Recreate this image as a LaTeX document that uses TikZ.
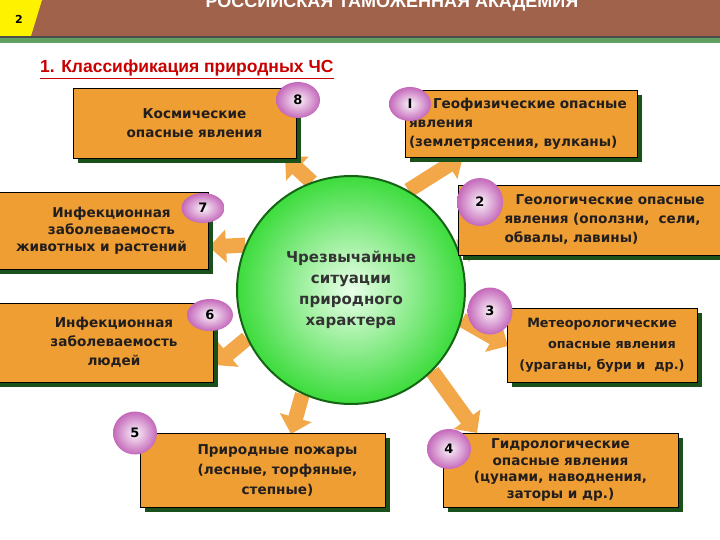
\documentclass[tikz,border=0pt]{standalone}
\usepackage{fontspec}
\setmainfont{DejaVu Sans}
\newfontfamily\headfont{Liberation Sans}
\usetikzlibrary{arrows.meta,shapes.geometric,shadows,backgrounds}
\definecolor{boxorange}{RGB}{238,158,50}
\definecolor{arroworange}{RGB}{242,168,72}
\definecolor{shadowgreen}{RGB}{26,80,26}
\definecolor{headbrown}{RGB}{160,98,74}
\definecolor{bandgreen}{RGB}{96,160,96}
\definecolor{circgreen}{RGB}{20,100,20}
\definecolor{ballpink}{RGB}{196,104,186}
\definecolor{textdark}{RGB}{35,30,30}
\definecolor{titlered}{RGB}{200,0,0}
\tikzset{
        % Orange boxes with green shadow
        tbox/.style={draw=black, line width=0.6pt, fill=boxorange, text=textdark, align=center,
                     inner sep=3pt, font=\bfseries\fontsize{13.6}{19}\selectfont,
                     drop shadow={shadow xshift=5pt, shadow yshift=-5pt, fill=shadowgreen, opacity=1}},
        % Pink numbered balls
        ballnum/.style={ellipse, inner sep=0pt, shading=radial, inner color=white!92!ballpink,
                        outer color=ballpink, font=\bfseries\fontsize{13}{13}\selectfont},
        % Block arrows
        bigarrow/.style={draw=arroworange, line width=15pt, -{Triangle[width=32pt,length=17pt]}}
}
\begin{document}
\begin{tikzpicture}[x=1pt, y=-1pt]
    \useasboundingbox (0,0) rectangle (720,540);
    % header
    \fill[headbrown] (0,0) rectangle (720,36);
    \fill[black!70] (0,36) rectangle (720,38);
    \fill[bandgreen] (0,38) rectangle (720,43);
    \fill[yellow] (0,0) -- (42,0) -- (31,36) -- (0,36) -- cycle;
    \node[font=\bfseries\fontsize{11}{11}\selectfont] (pg) at (19,19) {2};
    \node[anchor=base, text=white, font=\headfont\bfseries\fontsize{18}{18}\selectfont] (acad) at (392,8)
        {РОССИЙСКАЯ ТАМОЖЕННАЯ АКАДЕМИЯ};
    \node[anchor=base west, text=titlered, inner sep=0pt, font=\headfont\bfseries\fontsize{17.5}{17.5}\selectfont] (title) at (40,73)
        {\underline{1. Классификация природных ЧС}};

    % centre
    \node[circle, draw=circgreen, line width=2pt, minimum size=228pt, inner color=green!8,
          outer color={rgb,255:red,60;green,220;blue,60}, text=black!80, align=center,
          font=\bfseries\fontsize{15}{21}\selectfont] (circ) at (351,290)
        {Чрезвычайные\\ситуации\\природного\\характера};

    % boxes
    \node[tbox, minimum width=223pt, minimum height=70pt] (b8) at (184.5,123)
        {\hspace*{20pt}Космические\\\hspace*{20pt}опасные явления};
    \node[tbox, minimum width=232pt, minimum height=67pt, text width=224pt, align=left] (b1) at (521,123.5)
        {\hspace*{24pt}Геофизические опасные\\явления\\(землетрясения, вулканы)};
    \node[tbox, minimum width=267pt, minimum height=70pt, text width=256pt, align=left] (b2) at (591.5,220)
        {\hspace*{52pt}Геологические опасные\\\hspace*{41pt}явления (оползни,\ \ сели,\\\hspace*{41pt}обвалы, лавины)};
    \node[tbox, minimum width=213pt, minimum height=77pt, font=\bfseries\fontsize{13.6}{17}\selectfont] (b7) at (101.5,230.5)
        {\hspace*{20pt}Инфекционная\\\hspace*{20pt}заболеваемость\\животных и растений};
    \node[tbox, minimum width=218pt, minimum height=79pt] (b6) at (104,342.5)
        {\hspace*{20pt}Инфекционная\\\hspace*{20pt}заболеваемость\\\hspace*{20pt}людей};
    \node[tbox, minimum width=245pt, minimum height=74pt, font=\bfseries\fontsize{13.6}{20}\selectfont] (b5) at (262.5,470)
        {\hspace*{30pt}Природные пожары\\\hspace*{30pt}(лесные, торфяные,\\\hspace*{30pt}степные)};
    \node[tbox, minimum width=190pt, minimum height=74pt, font=\bfseries\fontsize{12.8}{21}\selectfont] (b3) at (602,345)
        {Метеорологические\\\hspace*{20pt}опасные явления\\(ураганы, бури и\ \ др.)};
    \node[tbox, minimum width=235pt, minimum height=74pt, font=\bfseries\fontsize{13.6}{16.5}\selectfont] (b4) at (560.5,470)
        {Гидрологические\\опасные явления\\(цунами, наводнения,\\заторы и др.)};

    % arrow tips
    \coordinate (t8) at (285,157);
    \coordinate (t1) at (463,156);
    \coordinate (t2) at (483,243);
    \coordinate (t7) at (209,247);
    \coordinate (t6) at (215,365);
    \coordinate (t5) at (291,434);
    \coordinate (t3) at (508,346);
    \coordinate (t4) at (477,433);

    \begin{pgfonlayer}{background}
        \draw[bigarrow] (circ.110) -- (t8);
        \draw[bigarrow] (circ.60) -- (t1);
        \draw[bigarrow] (circ.22) -- (t2);
        \draw[bigarrow] (circ.157) -- (t7);
        \draw[bigarrow] (circ.205) -- (t6);
        \draw[bigarrow] (circ.245) -- (t5);
        \draw[bigarrow] (circ.-15) -- (t3);
        \draw[bigarrow] (circ.-45) -- (t4);
    \end{pgfonlayer}

    % numbers
    \node[ballnum, minimum width=44pt, minimum height=36pt] (n8) at (298,100) {8};
    \node[ballnum, minimum width=42pt, minimum height=34pt] (n1) at (410,104) {I};
    \node[ballnum, minimum width=46pt, minimum height=48pt] (n2) at (480,202) {2};
    \node[ballnum, minimum width=43pt, minimum height=30pt] (n7) at (203,208) {7};
    \node[ballnum, minimum width=46pt, minimum height=32pt] (n6) at (210,315) {6};
    \node[ballnum, minimum width=44pt, minimum height=43pt] (n5) at (135,433) {5};
    \node[ballnum, minimum width=45pt, minimum height=47pt] (n3) at (490,311) {3};
    \node[ballnum, minimum width=44pt, minimum height=40pt] (n4) at (449,449) {4};
\end{tikzpicture}
\end{document}
